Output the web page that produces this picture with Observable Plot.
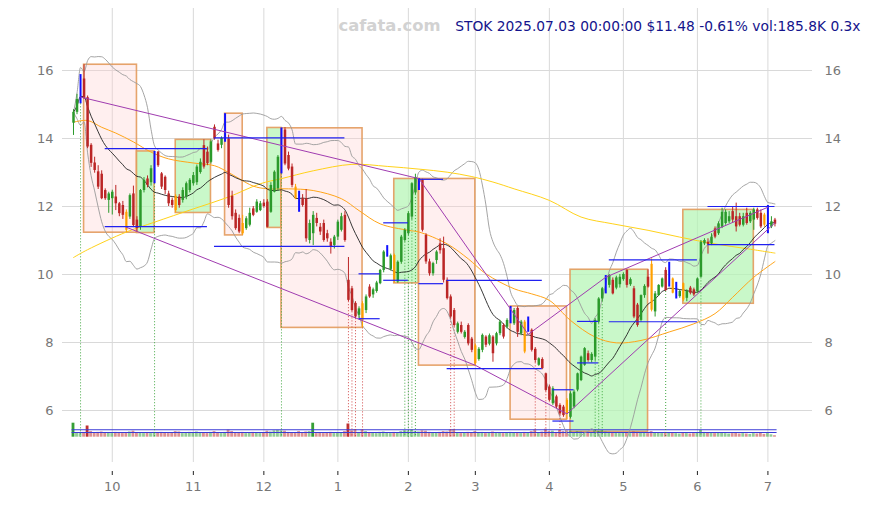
<!DOCTYPE html>
<html><head><meta charset="utf-8">
<script src="https://cdn.jsdelivr.net/npm/d3@7"></script>
<script src="https://cdn.jsdelivr.net/npm/@observablehq/plot@0.6"></script>
<style>body{margin:0;background:#fff;font-family:"DejaVu Sans",sans-serif}</style>
</head><body><div id="chart"></div>
<script>
// ---- daily candles, trading-day index 0 = 2024-09-16 ... 199 = 2025-07-03
const open = [
14.45,14.77,15.15,15.75,15.2,13.8,13.28,13.02,12.95,12.47,
12.18,12.23,12.28,12.08,12.03,11.83,11.69,12.37,11.6,11.4,
12.47,12.81,12.7,12.9,13.6,12.96,12.86,12.37,12.18,12.3,
12.28,12.18,12.28,12.47,12.67,12.7,13.0,13.79,13.6,13.3,
14.33,13.84,13.8,13.95,13.99,12.3,11.8,11.65,11.5,11.35,
11.45,11.93,11.83,11.88,12.1,12.13,11.83,12.42,12.52,13.0,
14.25,13.5,13.16,12.57,12.4,12.23,12.23,11.0,11.2,11.65,
11.39,11.5,11.2,10.95,10.85,11.1,11.3,11.74,9.83,9.58,
9.15,8.8,9.14,8.94,9.63,9.4,9.5,9.73,10.12,10.55,
10.15,10.56,9.78,10.36,11.0,11.2,11.69,12.4,12.5,12.77,
11.15,10.37,10.02,10.41,10.9,10.76,9.83,9.34,8.94,8.3,
8.5,8.15,8.5,8.1,7.9,7.5,7.77,8.16,7.95,8.16,
7.96,8.26,8.5,8.45,8.6,8.55,9.0,8.26,8.6,8.36,
8.36,7.8,7.33,7.5,7.08,6.69,6.2,6.4,6.15,6.1,
6.3,5.8,6.1,6.6,6.88,7.33,7.67,7.47,7.57,8.6,
9.28,9.45,9.68,9.83,9.6,9.7,9.85,10.12,9.7,9.58,
9.1,8.65,9.38,9.92,10.3,8.9,9.38,9.63,10.12,9.65,
9.87,9.3,9.35,9.73,9.3,9.6,9.55,9.5,9.92,10.9,
10.95,10.9,11.34,11.2,11.39,11.5,11.55,11.85,11.7,11.7,
11.45,11.8,11.55,11.6,11.9,11.8,11.75,11.3,11.4,11.6];
const high = [
14.85,15.3,15.88,16.17,15.25,13.85,13.45,13.2,13.05,12.52,
12.42,12.48,12.62,12.12,12.15,11.9,12.37,12.6,11.7,12.5,
12.85,12.9,13.2,13.62,13.62,13.0,12.9,12.45,12.25,12.35,
12.35,12.55,12.72,12.82,13.0,13.22,13.4,13.96,13.75,13.96,
14.4,13.95,14.05,14.73,14.1,12.45,11.9,11.75,11.74,11.7,
11.95,12.0,12.2,12.15,12.2,12.2,12.7,13.05,13.5,14.31,
14.32,13.6,13.25,12.65,12.45,12.35,12.5,11.6,11.85,11.8,
11.5,11.6,11.3,11.05,11.15,11.6,11.8,11.85,10.5,9.65,
9.2,9.05,9.2,9.4,9.7,9.6,9.8,10.15,10.7,10.85,
10.6,10.6,10.4,11.15,11.35,11.85,12.7,12.95,12.82,12.8,
11.2,10.45,10.36,10.7,11.05,11.1,9.9,9.4,9.0,8.6,
8.6,8.35,8.55,8.15,7.95,7.85,8.25,8.2,8.25,8.2,
8.3,8.65,8.55,8.7,9.06,9.0,9.05,8.65,8.65,8.75,
8.4,7.85,7.55,7.55,7.1,6.75,6.7,6.45,6.2,6.15,
6.35,6.55,6.6,7.1,7.6,7.85,7.75,7.7,8.7,9.32,
9.62,9.97,10.0,9.9,9.95,10.0,10.05,10.14,9.9,9.65,
9.15,9.4,9.7,10.14,10.46,9.5,9.7,9.9,10.2,10.36,
9.9,9.77,9.55,9.75,9.55,9.65,9.6,9.9,11.0,11.05,
11.05,11.2,11.4,11.55,11.95,11.9,11.85,12.0,12.1,11.8,
11.8,11.95,11.85,11.95,11.95,11.9,11.8,12.03,11.7,11.65];
const low = [
14.09,14.7,15.02,15.15,13.7,13.15,12.98,12.5,12.2,12.18,
11.8,11.75,11.88,11.7,11.62,11.23,11.62,11.38,11.25,11.3,
12.4,12.55,12.6,12.67,13.15,12.5,12.35,12.0,11.95,11.81,
11.95,12.1,12.2,12.4,12.6,12.62,12.95,13.1,13.2,13.25,
13.95,13.6,13.7,13.89,11.95,11.6,11.3,11.2,11.15,11.3,
11.4,11.7,11.8,11.85,11.95,11.37,11.8,12.4,12.45,12.96,
13.2,13.05,12.55,12.2,11.83,11.98,10.95,10.9,10.85,11.4,
11.15,10.95,10.95,10.6,10.75,11.0,11.25,10.95,9.2,8.9,
8.7,8.7,8.43,8.85,9.3,9.3,9.45,9.7,10.05,10.51,
10.1,9.74,9.74,10.3,10.95,11.15,11.6,12.35,12.47,11.25,
10.3,9.95,9.95,10.3,10.6,9.75,9.25,8.7,8.45,8.25,
8.25,8.1,7.9,7.7,7.32,7.45,7.7,7.85,7.9,7.42,
7.9,8.2,8.1,8.4,8.55,8.5,8.15,8.2,7.67,8.3,
7.72,7.4,7.3,7.2,6.55,6.25,6.15,6.05,5.85,5.8,
5.73,5.75,6.05,6.55,6.85,7.3,7.42,7.4,7.45,8.55,
9.2,9.43,9.6,9.4,9.55,9.6,9.8,9.6,9.65,8.7,
8.45,8.6,9.3,9.6,8.9,8.75,9.35,9.6,9.5,9.63,
9.43,9.28,9.3,9.2,9.2,9.4,9.35,9.45,9.9,10.85,
10.6,10.85,11.05,11.15,11.35,11.45,11.5,11.5,11.25,11.4,
11.4,11.45,11.5,11.3,11.6,11.35,11.39,11.2,11.35,11.4];
const close = [
14.77,15.15,15.8,15.2,13.75,13.27,13.06,12.57,12.23,12.23,
12.37,12.42,12.08,11.79,11.74,11.3,12.32,11.44,11.35,12.47,
12.77,12.62,13.11,13.55,13.2,12.57,12.47,12.08,12.03,11.88,
12.03,12.47,12.67,12.77,12.91,13.16,13.3,13.16,13.26,13.9,
13.99,13.65,14.0,14.6,12.03,11.7,11.35,11.25,11.2,11.64,
11.8,11.74,12.13,12.08,12.0,11.39,12.62,13.01,13.45,14.2,
13.25,13.1,12.62,12.23,11.9,12.03,11.05,11.5,11.74,11.5,
11.25,11.0,11.05,10.8,11.1,11.54,11.7,11.0,9.24,8.94,
8.75,8.99,8.65,9.34,9.34,9.55,9.75,10.12,10.66,10.8,
10.55,9.83,10.36,11.1,11.3,11.79,12.67,12.85,12.78,11.3,
10.37,10.02,10.32,10.66,10.7,9.83,9.29,8.75,8.5,8.55,
8.3,8.3,7.96,7.77,7.38,7.8,8.21,7.92,8.2,7.67,
8.26,8.6,8.16,8.65,9.0,8.94,8.3,8.6,7.72,8.7,
7.77,7.47,7.52,7.23,6.59,6.3,6.64,6.1,5.9,5.85,
5.9,6.49,6.54,7.08,7.57,7.82,7.47,7.65,8.65,9.28,
9.58,9.92,9.97,9.43,9.9,9.92,10.0,9.68,9.85,8.75,
8.5,9.38,9.65,9.63,8.95,9.43,9.68,9.87,9.53,10.3,
9.45,9.7,9.5,9.25,9.5,9.45,9.4,9.87,10.95,11.0,
10.88,11.1,11.1,11.49,11.83,11.83,11.7,11.6,11.4,11.45,
11.7,11.5,11.8,11.9,11.65,11.4,11.45,11.9,11.55,11.48];
// volume in thousands of shares
const volume = [
1750,500,450,600,1400,700,500,600,650,550,
500,450,600,550,450,500,650,750,550,500,
450,500,450,600,550,600,500,450,500,700,
650,450,500,600,550,650,500,550,450,600,
700,500,450,600,900,700,500,550,600,450,
500,600,550,450,500,750,650,800,850,800,
750,600,550,500,700,550,650,700,1750,450,
500,450,550,600,450,500,550,700,1650,800,
950,600,900,700,550,500,450,600,650,500,
450,600,550,700,800,750,900,700,650,800,
750,600,550,500,600,700,650,900,950,500,
450,500,600,550,700,500,600,450,500,650,
500,550,450,500,600,500,550,450,600,500,
700,900,550,650,1000,700,750,600,850,700,
800,750,600,700,650,600,500,550,900,750,
800,650,600,550,500,450,500,550,450,650,
600,550,500,450,700,550,500,450,600,500,
550,450,400,500,450,400,450,500,850,600,
550,500,450,500,550,450,400,450,500,400,
450,400,350,450,400,500,350,450,300,186];
// signal candles
const blueIdx = [2,23,43,59,64,89,98,124,129,151,169,171,197];
const orangeIdx = [15,29,48,63,82,91,114,128,140,164,170,173,196];
// month ticks (first trading day of each month)
const monthTickIdx = [11,34,54,75,95,114,135,156,177,197];
const monthTickLabel = ["10","11","12","1","2","3","4","5","6","7"];
const priceTicks = [6,8,10,12,14,16];
// slow moving averages (index, value)
const maOrangeIdx = [0,4,8,12,17,22,27,34,40,44,47,51,55,61,68,76,81,87,95,98,106,112,117,125,130,135,141,148,154,161,169,176,182,187,193,199];
const maOrangeVal = [14.48,14.53,14.33,14.16,13.9,13.6,13.4,13.28,13.2,13.0,12.82,12.6,12.52,12.52,12.47,12.23,11.88,11.49,11.3,11.25,10.9,10.46,10.02,9.58,9.43,9.24,8.65,8.16,7.99,8.06,8.31,8.55,8.85,9.33,9.92,10.38];
const maYellowIdx = [0,4,15,23,34,44,53,59,68,79,89,98,106,113,119,125,135,144,153,163,172,182,191,199];
const maYellowVal = [10.5,10.73,11.25,11.54,11.93,12.28,12.67,12.82,13.05,13.24,13.18,13.1,13.01,12.88,12.72,12.52,12.18,11.69,11.49,11.3,11.1,10.9,10.76,10.63];
// phase boxes
const boxStart = [3,18,29,43,55,59,91,98,124,141,173];
const boxEnd   = [18,23,39,48,59,82,98,114,140,163,193];
const boxTop   = [16.17,13.62,13.96,14.73,14.31,14.30,12.81,12.81,9.06,10.14,11.9];
const boxBottom= [11.23,11.22,11.81,11.15,11.37,8.43,9.74,7.32,5.73,5.37,9.14];
const boxPhase = ["down","up","up","down","up","down","up","down","down","up","up"];
// trend lines (pivot index, price)
const trendUpperIdx = [2,98,129,151,197];
const trendUpperVal = [15.22,12.82,8.24,9.92,11.98];
const trendLowerIdx = [15,114,140,199];
const trendLowerVal = [11.39,7.33,5.9,11.52];
// horizontal level segments
const segStart = [9,9,40,40,81,81,88,88,98,98,106,106,136,136,143,143,152,152,180,180];
const segEnd   = [38,38,77,77,87,87,95,95,105,105,133,133,142,142,149,149,177,177,199,199];
const segPrice = [13.7,11.41,14.02,10.83,10.02,8.7,11.52,9.83,12.8,9.73,9.83,7.23,6.61,5.69,8.62,7.4,10.43,8.61,12.0,10.88];
// signal marker days
const greenMarkIdx = [2,23,59,94,95,96,97,148,149,150,168,178];
const redMarkIdx = [78,79,80,82,107,108,131,134,138];
// volume reference levels (thousands)
const volLevels = [930,590];
const titleText = "STOK 2025.07.03 00:00:00 $11.48 -0.61% vol:185.8K 0.3x";
const watermark = "cafata.com";

// ---- derived
const GREEN = "#2b9a2b", RED = "#bb2626", BLUE = "#1010ff", ORANGE = "#ffa000";
const N = close.length;
const bars = d3.range(N).map(i => ({
  i, o: open[i], h: high[i], l: low[i], c: close[i], v: volume[i],
  kind: blueIdx.includes(i) ? "blue" : orangeIdx.includes(i) ? "orange" : (close[i] >= open[i] ? "up" : "down")
}));
const colorOf = {up: GREEN, down: RED, blue: BLUE, orange: ORANGE};
const regular = bars.filter(d => d.kind === "up" || d.kind === "down");
const blues = bars.filter(d => d.kind === "blue");
const oranges = bars.filter(d => d.kind === "orange");
const bb = bars.map(d => {
  const w = close.slice(Math.max(0, d.i - 19), d.i + 1);
  const m = d3.mean(w);
  const s = Math.sqrt(d3.mean(w, v => (v - m) ** 2));
  return {i: d.i, m, up: m + 2 * s, lo: m - 2 * s};
});
const boxes = boxStart.map((s, k) => ({s, e: boxEnd[k], t: boxTop[k], b: boxBottom[k], p: boxPhase[k]}));
const segs = segStart.map((s, k) => ({s, e: segEnd[k], y: segPrice[k]}));
const upperPath = trendUpperIdx.map((x, k) => ({x, y: trendUpperVal[k]}));
const lowerPath = trendLowerIdx.map((x, k) => ({x, y: trendLowerVal[k]}));
const maO = maOrangeIdx.map((x, k) => ({x, y: maOrangeVal[k]}));
const maY = maYellowIdx.map((x, k) => ({x, y: maYellowVal[k]}));
const labelOf = new Map(monthTickIdx.map((d, k) => [d, monthTickLabel[k]]));

const Y_TOP = 17.824, Y_BOT = 4.206, GRID_BOT = 4.47;
const VOL_BASE = 5.215, VOL_UNIT = 1 / (125 * 34);

const chart = Plot.plot({
  width: 869, height: 505,
  marginLeft: 62, marginRight: 57, marginTop: 8, marginBottom: 34,
  style: {fontFamily: "DejaVu Sans, sans-serif", fontSize: "13px", background: "#fff", overflow: "visible"},
  x: {type: "linear", domain: [-3.12, 209.65], axis: null},
  y: {type: "linear", domain: [Y_BOT, Y_TOP], axis: null},
  marks: [
    Plot.gridY(priceTicks, {stroke: "#d9d9d9", strokeOpacity: 1}),
    Plot.ruleX(monthTickIdx, {y1: Y_TOP, y2: GRID_BOT, stroke: "#d9d9d9"}),
    Plot.rect(boxes, {x1: "s", x2: "e", y1: "b", y2: "t",
      fill: d => d.p === "up" ? "#b4f5b4" : "#ffd0d0", fillOpacity: d => d.p === "up" ? 0.72 : 0.35,
      stroke: "#e39a5c", strokeWidth: 1.6, strokeOpacity: 0.9}),
    // volume
    Plot.rect(bars, {x1: d => d.i - 0.4, x2: d => d.i + 0.4, y1: VOL_BASE, y2: d => VOL_BASE + d.v * VOL_UNIT,
      fill: d => d.c >= d.o ? GREEN : RED, fillOpacity: d => d.v > 1200 ? 0.95 : 0.5}),
    Plot.ruleY(volLevels, {y: d => VOL_BASE + d * VOL_UNIT, x1: -0.4, x2: N - 0.4, stroke: "#3b3bd6", strokeWidth: 1.1}),
    // signal markers
    Plot.ruleX(greenMarkIdx, {x: d => d, y1: d => low[d], y2: VOL_BASE, stroke: "#2f9e2f", strokeWidth: 0.9, strokeDasharray: "1,2"}),
    Plot.ruleX(redMarkIdx, {x: d => d, y1: d => low[d], y2: VOL_BASE, stroke: "#cc3333", strokeWidth: 0.9, strokeDasharray: "1,2"}),
    // bands & averages
    Plot.line(bb, {x: "i", y: "up", stroke: "#9a9a9a", strokeWidth: 0.9, curve: "monotone-x"}),
    Plot.line(bb, {x: "i", y: "lo", stroke: "#9a9a9a", strokeWidth: 0.9, curve: "monotone-x"}),
    Plot.line(maY, {x: "x", y: "y", stroke: "#ffd21a", strokeWidth: 1, curve: "catmull-rom"}),
    Plot.line(maO, {x: "x", y: "y", stroke: "#ffa51a", strokeWidth: 1, curve: "catmull-rom"}),
    Plot.line(bb, {x: "i", y: "m", stroke: "#222", strokeWidth: 0.9, curve: "monotone-x"}),
    // candles
    Plot.ruleX(regular, {x: "i", y1: "l", y2: "h", stroke: d => colorOf[d.kind], strokeWidth: 1}),
    Plot.ruleX(regular, {x: "i", y1: "o", y2: "c", stroke: d => colorOf[d.kind], strokeWidth: 2.5}),
    Plot.ruleX(oranges, {x: "i", y1: "l", y2: "h", stroke: ORANGE, strokeWidth: 1}),
    Plot.ruleX(oranges, {x: "i", y1: "o", y2: "c", stroke: ORANGE, strokeWidth: 2.2}),
    Plot.ruleX(blues, {x: "i", y1: "l", y2: "h", stroke: BLUE, strokeWidth: 2}),
    // trend lines and levels
    Plot.line(upperPath, {x: "x", y: "y", stroke: "#a03cb0", strokeWidth: 1}),
    Plot.line(lowerPath, {x: "x", y: "y", stroke: "#a03cb0", strokeWidth: 1}),
    Plot.ruleY(segs, {y: "y", x1: "s", x2: "e", stroke: "#2020f0", strokeWidth: 1.2}),
    // axes
    Plot.axisY(priceTicks, {anchor: "left", tickSize: 0, tickPadding: 9, fill: "#777", fontSize: 13}),
    Plot.axisY(priceTicks, {anchor: "right", tickSize: 0, tickPadding: 12, fill: "#777", fontSize: 13}),
    Plot.axisX(monthTickIdx, {anchor: "bottom", tickSize: 4, tickPadding: 6, stroke: "#222", fill: "#777", fontSize: 13, tickFormat: d => labelOf.get(d)}),
    // header texts
    Plot.text([watermark], {frameAnchor: "top-left", dx: 327, dy: 17, textAnchor: "middle", lineAnchor: "middle", fontWeight: "bold", fontSize: 16.4, fill: "#d2d2d2"}),
    Plot.text([titleText], {frameAnchor: "top-right", dx: 48, dy: 18, textAnchor: "end", lineAnchor: "middle", fontSize: 13.8, fill: "#14148c"})
  ]
});
document.getElementById("chart").append(chart);
</script>
</body></html>
